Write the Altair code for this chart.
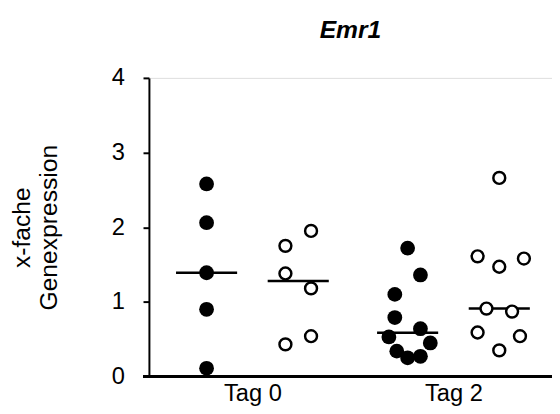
import altair as alt
import pandas as pd

# --- data ---
tags = ["Tag 0", "Tag 2"]
tag0_filled = [2.58, 2.06, 1.39, 0.90, 0.11]
tag0_open = [1.95, 1.75, 1.38, 1.18, 0.54, 0.43]
tag2_filled = [1.72, 1.36, 1.10, 0.79, 0.64, 0.53, 0.45, 0.34, 0.27, 0.25]
tag2_open = [2.66, 1.61, 1.58, 1.47, 0.91, 0.87, 0.59, 0.54, 0.35]

# beeswarm spread (x units) of each point around its group centre
tag0_filled_spread = [0, 0, 0, 0, 0]
tag0_open_spread = [0.13, -0.13, -0.13, 0.13, 0.13, -0.13]
tag2_filled_spread = [0, 0.13, -0.13, -0.13, 0.13, -0.19, 0.23, -0.11, 0.13, 0]
tag2_open_spread = [0, -0.22, 0.25, 0, -0.13, 0.13, -0.22, 0.21, 0]

# layout: group centres on the x scale
tag_centres = [1.05, 3.09]
half_gap = 0.465
median_half = 0.31

rows = []
for tag, centre, filled, fs, opened, os_ in [
    (tags[0], tag_centres[0], tag0_filled, tag0_filled_spread, tag0_open, tag0_open_spread),
    (tags[1], tag_centres[1], tag2_filled, tag2_filled_spread, tag2_open, tag2_open_spread),
]:
    for v, s in zip(filled, fs):
        rows.append({"tag": tag, "kind": "filled", "value": v, "centre": centre - half_gap, "pos": centre - half_gap + s})
    for v, s in zip(opened, os_):
        rows.append({"tag": tag, "kind": "open", "value": v, "centre": centre + half_gap, "pos": centre + half_gap + s})
df = pd.DataFrame(rows)

FONT = "Liberation Sans"

xscale = alt.Scale(domain=[0, 4.09], nice=False, zero=False)
yscale = alt.Scale(domain=[0, 4], nice=False)

xaxis = alt.Axis(
    values=tag_centres,
    labelExpr="datum.value < 2 ? 'Tag 0' : 'Tag 2'",
    domain=False, ticks=False, tickSize=0, grid=False,
    labelFontSize=24, labelFont=FONT, labelColor="black", labelPadding=5,
    title=None,
)
yaxis = alt.Axis(
    values=[0, 1, 2, 3, 4], format="d",
    domainColor="black", domainWidth=2, tickColor="black", tickWidth=2, tickSize=6,
    grid=False, labelFontSize=24, labelFont=FONT, labelColor="black", labelPadding=19,
    title=["x-fache", "Genexpression"], titleFontSize=25, titleFont=FONT,
    titleFontWeight="normal", titleColor="black", titlePadding=50, titleLineHeight=28,
)

base = alt.Chart(df)

filled_pts = base.transform_filter(alt.datum.kind == "filled").mark_point(
    shape="circle", filled=True, color="black", size=225, opacity=1
).encode(
    x=alt.X("pos:Q", scale=xscale, axis=xaxis),
    y=alt.Y("value:Q", scale=yscale, axis=yaxis),
)

open_pts = base.transform_filter(alt.datum.kind == "open").mark_point(
    shape="circle", filled=False, color="black", fill="white", fillOpacity=1,
    strokeWidth=2.5, size=145, opacity=1
).encode(
    x=alt.X("pos:Q", scale=xscale),
    y=alt.Y("value:Q", scale=yscale),
)

medians = base.transform_aggregate(
    med="median(value)", groupby=["tag", "kind", "centre"]
).transform_calculate(
    x1=f"datum.centre - {median_half}", x2=f"datum.centre + {median_half}"
).mark_rule(color="black", strokeWidth=2.5).encode(
    x=alt.X("x1:Q", scale=xscale),
    x2="x2:Q",
    y=alt.Y("med:Q", scale=yscale),
)

xline = base.mark_rule(color="black", strokeWidth=2).encode(
    x=alt.value(-6), x2=alt.value(409), y=alt.datum(0, scale=yscale)
)

chart = alt.layer(medians, filled_pts, open_pts, xline).properties(
    width=409, height=303,
    title=alt.TitleParams("Emr1", font=FONT, fontSize=25, fontStyle="italic",
                          fontWeight="bold", color="black", offset=23),
    autosize=alt.AutoSizeParams(type="none"),
    padding={"left": 143, "top": 68, "right": 0, "bottom": 27},
).configure_view(stroke=None).configure(background="white")

chart.save("out.html", embed_options={"renderer": "svg", "actions": False})
